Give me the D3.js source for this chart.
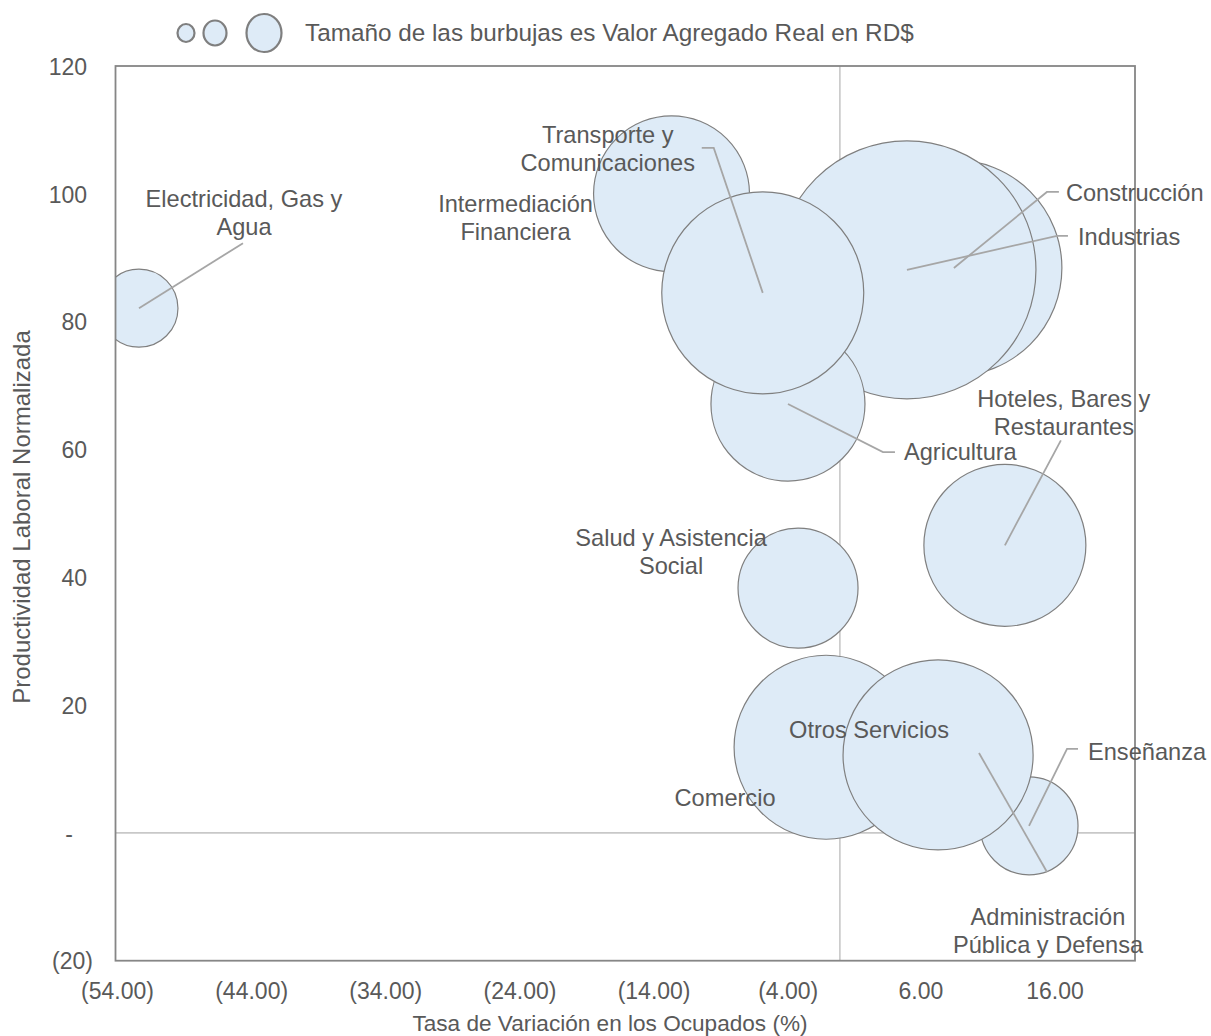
<!DOCTYPE html>
<html>
<head>
<meta charset="utf-8">
<script src="https://cdn.jsdelivr.net/npm/d3@7/dist/d3.min.js"></script>
<style>
  html, body { margin: 0; padding: 0; background: #ffffff; }
  svg { display: block; }
  text { font-family: "Liberation Sans", Arial, sans-serif; fill: #595959; }
</style>
</head>
<body>
<script>
// ---------------- DATA ----------------
const sectors = [
  "Electricidad, Gas y Agua",
  "Intermediación Financiera",
  "Construcción",
  "Industrias",
  "Agricultura",
  "Transporte y Comunicaciones",
  "Hoteles, Bares y Restaurantes",
  "Salud y Asistencia Social",
  "Comercio",
  "Enseñanza",
  "Administración Pública y Defensa",
  "Otros Servicios"
];
// Tasa de Variación en los Ocupados (%)
const tasaOcupados = [-52.25, -12.55, 8.5, 5.0, -3.87, -5.75, 12.3, -3.12, -1.03, 14.1, 10.37, 7.32];
// Productividad Laboral Normalizada
const productividad = [82.1, 100.0, 88.4, 88.1, 67.1, 84.5, 45.0, 38.3, 13.4, 1.1, 12.5, 12.2];
// Valor Agregado Real (tamaño de burbuja, unidades relativas)
const valorAgregado = [15.2, 60.8, 116.6, 166.4, 59.3, 102.0, 65.6, 36.0, 84.6, 24.0, 20.0, 90.3];

const xTickValues = [-54, -44, -34, -24, -14, -4, 6, 16];
const xTickLabels = ["(54.00)", "(44.00)", "(34.00)", "(24.00)", "(14.00)", "(4.00)", "6.00", "16.00"];
const yTickValues = [-20, 0, 20, 40, 60, 80, 100, 120];
const yTickLabels = ["(20)", "-", "20", "40", "60", "80", "100", "120"];

const xTitle = "Tasa de Variación en los Ocupados (%)";
const yTitle = "Productividad Laboral Normalizada";
const legendText = "Tamaño de las burbujas es Valor Agregado Real en RD$";

// ---------------- LABEL LAYOUT (pixel offsets from bubble centre) ----------------
const labelLayout = [
  { lines: ["Electricidad, Gas y", "Agua"], tx: 105, ty: -101, anchor: "middle", leader: [[104, -65]] },
  { lines: ["Intermediación", "Financiera"], tx: -156, ty: 18, anchor: "middle", leader: null },
  { lines: ["Construcción"], tx: 112, ty: -67, anchor: "start", leader: [[105, -76], [93, -76]] },
  { lines: ["Industrias"], tx: 171, ty: -25, anchor: "start", leader: [[161, -34], [150, -34]] },
  { lines: ["Agricultura"], tx: 116, ty: 56, anchor: "start", leader: [[107, 48], [95, 48]] },
  { lines: ["Transporte y", "Comunicaciones"], tx: -155, ty: -150, anchor: "middle", leader: [[-61, -145], [-49, -145]] },
  { lines: ["Hoteles, Bares y", "Restaurantes"], tx: 59, ty: -138, anchor: "middle", leader: [[56, -105]] },
  { lines: ["Salud y Asistencia", "Social"], tx: -127, ty: -42, anchor: "middle", leader: null },
  { lines: ["Comercio"], tx: -101, ty: 59, anchor: "middle", leader: null },
  { lines: ["Enseñanza"], tx: 59, ty: -66, anchor: "start", leader: [[49, -77], [38, -77]] },
  { lines: ["Administración", "Pública y Defensa"], tx: 69, ty: 172, anchor: "middle", leader: [[68, 119]] },
  { lines: ["Otros Servicios"], tx: -69, ty: -17, anchor: "middle", leader: null }
];

// ---------------- CHART ----------------
const W = 1211, H = 1036;
const plot = { left: 115.5, right: 1135, top: 66, bottom: 960.7 };
const FONT_TICK = 23, FONT_LABEL = 23.6, FONT_XT = 22.6, FONT_YT = 24, FONT_LEG = 24.3;

const svg = d3.select("body").append("svg").attr("width", W).attr("height", H);

const x = d3.scaleLinear().domain([-54, 22]).range([plot.left, plot.right]);
const y = d3.scaleLinear().domain([-20, 120]).range([plot.bottom, plot.top]);
const r = d3.scaleSqrt().domain([0, d3.max(valorAgregado)]).range([0, 129]);

const data = sectors.map((s, i) => ({
  name: s, xv: tasaOcupados[i], yv: productividad[i], size: valorAgregado[i], lab: labelLayout[i]
}));

svg.append("defs").append("clipPath").attr("id", "plotclip")
  .append("rect")
  .attr("x", plot.left).attr("y", plot.top)
  .attr("width", plot.right - plot.left).attr("height", plot.bottom - plot.top);

// zero lines
svg.append("line")
  .attr("x1", x(0)).attr("x2", x(0)).attr("y1", plot.top).attr("y2", plot.bottom)
  .attr("stroke", "#c8c8c8").attr("stroke-width", 1.6);
svg.append("line")
  .attr("x1", plot.left).attr("x2", plot.right).attr("y1", y(0)).attr("y2", y(0))
  .attr("stroke", "#c8c8c8").attr("stroke-width", 1.6);

// bubbles
svg.append("g").attr("clip-path", "url(#plotclip)")
  .selectAll("circle").data(data).join("circle")
  .attr("cx", d => x(d.xv)).attr("cy", d => y(d.yv)).attr("r", d => r(d.size))
  .attr("fill", "#deebf7").attr("stroke", "#7f7f7f").attr("stroke-width", 1.2);

// leader lines
const leaderG = svg.append("g");
data.forEach(d => {
  if (!d.lab.leader) return;
  const cx = x(d.xv), cy = y(d.yv);
  const pts = d.lab.leader.map(p => [cx + p[0], cy + p[1]]).concat([[cx, cy]]);
  leaderG.append("path")
    .attr("d", d3.line()(pts))
    .attr("fill", "none").attr("stroke", "#a6a6a6").attr("stroke-width", 1.8);
});

// plot border
svg.append("rect")
  .attr("x", plot.left).attr("y", plot.top)
  .attr("width", plot.right - plot.left).attr("height", plot.bottom - plot.top)
  .attr("fill", "none").attr("stroke", "#868686").attr("stroke-width", 1.8);

// data labels
const labG = svg.append("g");
data.forEach(d => {
  const cx = x(d.xv), cy = y(d.yv);
  const t = labG.append("text")
    .attr("x", cx + d.lab.tx).attr("y", cy + d.lab.ty)
    .attr("text-anchor", d.lab.anchor)
    .style("font-size", FONT_LABEL + "px");
  d.lab.lines.forEach((ln, k) => {
    t.append("tspan").attr("x", cx + d.lab.tx).attr("dy", k === 0 ? 0 : 28).text(ln);
  });
});

// x axis
const xAxis = d3.axisBottom(x).tickValues(xTickValues)
  .tickFormat((v, i) => xTickLabels[i]).tickSize(0).tickPadding(0);
const gx = svg.append("g").attr("transform", `translate(0,${plot.bottom})`).call(xAxis);
gx.select(".domain").remove();
gx.selectAll("text").attr("dy", null).attr("y", 38)
  .attr("dx", v => v < 0 ? 1.5 : 0)
  .style("font-size", FONT_TICK + "px").style("font-family", '"Liberation Sans", Arial, sans-serif')
  .attr("fill", "#595959");

// y axis
const yAxis = d3.axisLeft(y).tickValues(yTickValues)
  .tickFormat((v, i) => yTickLabels[i]).tickSize(0).tickPadding(28.5);
const gy = svg.append("g").attr("transform", `translate(${plot.left},0)`).call(yAxis);
gy.select(".domain").remove();
gy.selectAll("text")
  .style("font-size", FONT_TICK + "px").style("font-family", '"Liberation Sans", Arial, sans-serif')
  .attr("fill", "#595959")
  .attr("dy", "0.36em")
  .attr("dx", (v) => v < 0 ? 6 : (v === 0 ? -14 : 0));

// axis titles
svg.append("text")
  .attr("x", 610).attr("y", 1031).attr("text-anchor", "middle")
  .style("font-size", FONT_XT + "px").text(xTitle);
svg.append("text")
  .attr("transform", "translate(30,517) rotate(-90)").attr("text-anchor", "middle")
  .style("font-size", FONT_YT + "px").text(yTitle);

// legend
const legendShapes = [
  { cx: 186, rx: 8.5, ry: 9 },
  { cx: 215, rx: 11.5, ry: 12.5 },
  { cx: 264, rx: 17.5, ry: 19 }
];
svg.append("g").selectAll("ellipse").data(legendShapes).join("ellipse")
  .attr("cx", d => d.cx).attr("cy", 33).attr("rx", d => d.rx).attr("ry", d => d.ry)
  .attr("fill", "#deebf7").attr("stroke", "#7f7f7f").attr("stroke-width", 2.2);
svg.append("text")
  .attr("x", 305).attr("y", 41)
  .style("font-size", FONT_LEG + "px").text(legendText);
</script>
</body>
</html>
